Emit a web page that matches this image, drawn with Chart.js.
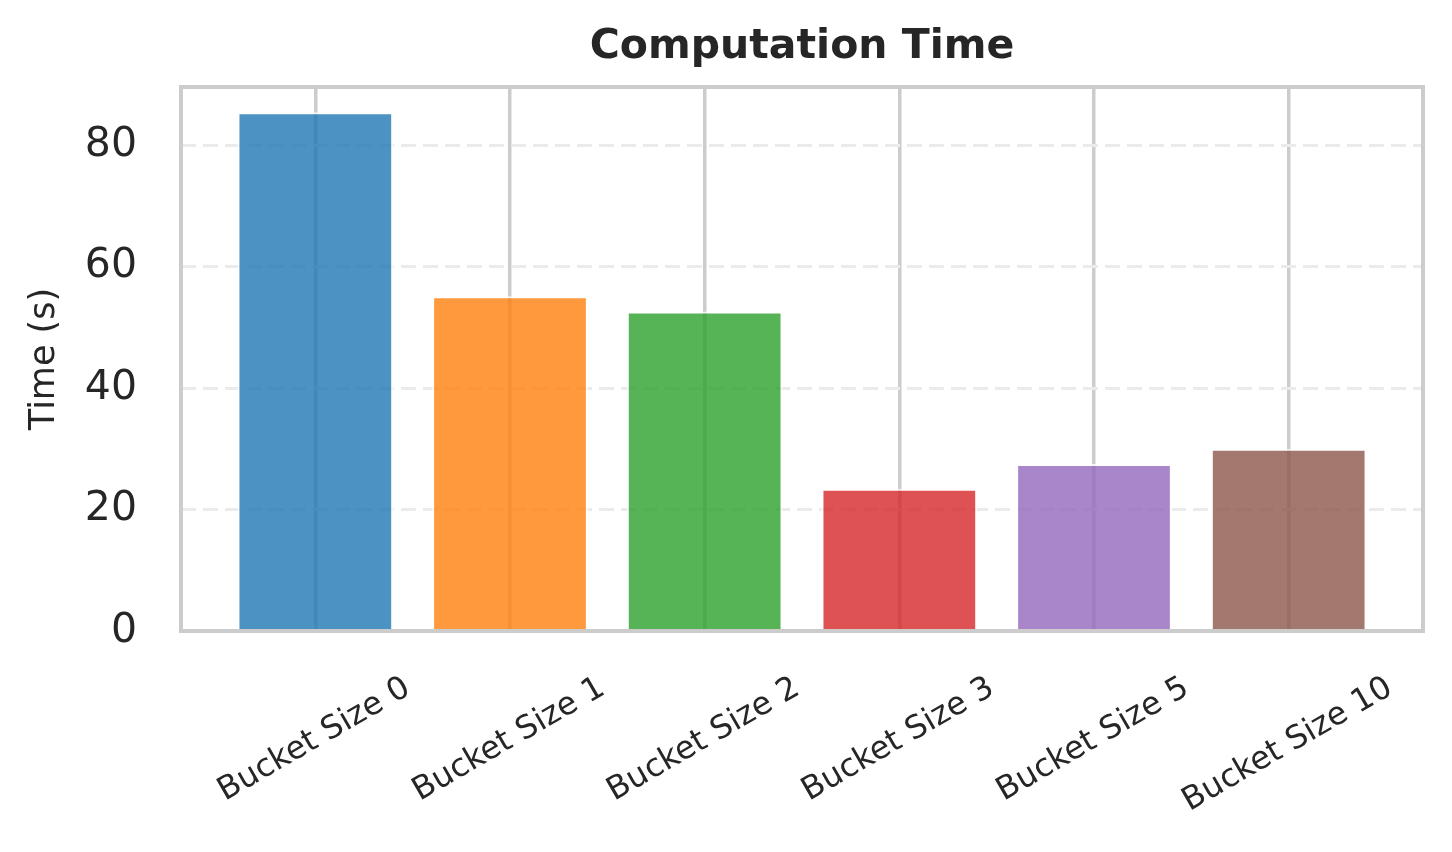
<!DOCTYPE html>
<html>
<head>
<meta charset="utf-8">
<script src="https://cdn.jsdelivr.net/npm/chart.js@4.4.1/dist/chart.umd.min.js"></script>
<style>
  html, body { margin: 0; padding: 0; background: #fff; }
  #wrap { width: 1452px; height: 852px; position: relative; }
</style>
</head>
<body>
<div id="wrap"><canvas id="graficoTempo"></canvas></div>
<script>
const categories = ['Bucket Size 0', 'Bucket Size 1', 'Bucket Size 2', 'Bucket Size 3', 'Bucket Size 5', 'Bucket Size 10'];
const times = [85.4, 55.1, 52.6, 23.4, 27.5, 30.0];
const barColors = ['rgba(31,119,180,0.8)', 'rgba(255,127,14,0.8)', 'rgba(44,160,44,0.8)', 'rgba(214,39,40,0.8)', 'rgba(148,103,189,0.8)', 'rgba(140,86,75,0.8)'];
const yMax = 89.55;
const yStep = 20;
const titulo = 'Computation Time';

Chart.defaults.font.family = "'DejaVu Sans', sans-serif";

// moldura do gráfico (spines)
const moldura = {
  id: 'moldura',
  afterDatasetsDraw(chart) {
    const { ctx, chartArea: a } = chart;
    ctx.save();
    ctx.strokeStyle = '#cccccc';
    ctx.lineWidth = 4;
    ctx.strokeRect(a.left, a.top, a.right - a.left, a.bottom - a.top);
    ctx.restore();
  }
};

// título centralizado sobre a área do gráfico
const tituloPlugin = {
  id: 'tituloPlugin',
  afterDraw(chart) {
    const { ctx, chartArea: a } = chart;
    ctx.save();
    ctx.font = "bold 41px 'DejaVu Sans'";
    ctx.fillStyle = '#262626';
    ctx.textAlign = 'center';
    ctx.textBaseline = 'middle';
    ctx.fillText(titulo, (a.left + a.right) / 2, 47);
    ctx.restore();
  }
};

// rótulos do eixo x rotacionados e centralizados
const rotulosX = {
  id: 'rotulosX',
  afterDraw(chart) {
    const { ctx } = chart;
    const xs = chart.scales.x;
    const size = 32;
    const ang = Math.PI / 6;
    ctx.save();
    ctx.font = size + "px 'DejaVu Sans'";
    ctx.fillStyle = '#262626';
    ctx.textAlign = 'center';
    ctx.textBaseline = 'middle';
    categories.forEach((label, i) => {
      const x = xs.getPixelForValue(i) - 1;
      const w = ctx.measureText(label).width;
      const h = w * Math.sin(ang) + size * Math.cos(ang);
      const cy = chart.chartArea.bottom + 41 + h / 2;
      ctx.save();
      ctx.translate(x, cy);
      ctx.rotate(-ang);
      ctx.fillText(label, 0, 0);
      ctx.restore();
    });
    ctx.restore();
  }
};

const ctx = document.getElementById('graficoTempo').getContext('2d');
new Chart(ctx, {
  type: 'bar',
  data: {
    datasets: [{
      data: times.map((v, i) => ({ x: i, y: v })),
      backgroundColor: barColors,
      borderColor: 'rgba(255,255,255,0.8)',
      borderWidth: 2,
      borderSkipped: 'bottom',
      barPercentage: 0.8,
      categoryPercentage: 1.0
    }]
  },
  options: {
    responsive: true,
    maintainAspectRatio: false,
    animation: false,
    layout: { padding: { left: 0, right: 29, top: 87, bottom: 0 } },
    plugins: {
      legend: { display: false },
      tooltip: { enabled: false },
      title: { display: false }
    },
    scales: {
      x: {
        type: 'linear',
        offset: false,
        min: -0.69,
        max: 5.69,
        afterBuildTicks: (scale) => { scale.ticks = categories.map((c, i) => ({ value: i })); },
        afterFit: (scale) => { scale.height = 221; },
        ticks: { display: false },
        grid: { offset: false, color: '#cccccc', lineWidth: 3.5, drawTicks: false },
        border: { display: false }
      },
      y: {
        min: 0,
        max: yMax,
        afterFit: (scale) => { scale.width = 181; },
        ticks: {
          stepSize: yStep,
          includeBounds: false,
          color: '#262626',
          font: { size: 41 },
          padding: 44
        },
        grid: { color: '#ebebeb', lineWidth: 3, drawTicks: false },
        border: { display: false, dash: [15, 7] },
        title: {
          display: true,
          text: 'Time (s)',
          color: '#262626',
          font: { size: 35 },
          padding: { top: 24, bottom: 0 }
        }
      }
    }
  },
  plugins: [moldura, tituloPlugin, rotulosX]
});
</script>
</body>
</html>
